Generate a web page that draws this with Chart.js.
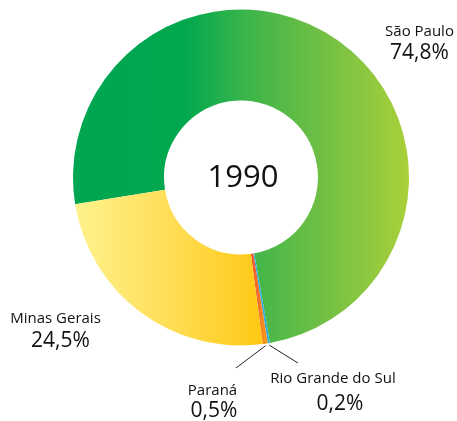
<!DOCTYPE html>
<html>
<head>
<meta charset="utf-8">
<script src="https://cdn.jsdelivr.net/npm/chart.js@4"></script>
<style>
  html, body { margin: 0; padding: 0; background: #fff; }
  #wrap { width: 457px; height: 421px; }
</style>
</head>
<body>
<div id="wrap"><canvas id="donut"></canvas></div>
<script>
// 1990 share by state (%)
const YEAR_LABEL = "1990";
const REGIONS = ["São Paulo", "Rio Grande do Sul", "Paraná", "Minas Gerais"];
const SHARES = [74.8, 0.2, 0.5, 24.5];

// gradient stops per slice, left -> right across the slice
const SLICE_STOPS = [
  [[0, "#00A651"], [0.33, "#00A84F"], [0.52, "#3DB54A"], [0.72, "#6CBE45"], [1, "#A9D03A"]],
  [[0, "#29ABE2"], [1, "#29ABE2"]],
  [[0, "#EF4136"], [1, "#F7941D"]],
  [[0, "#FFF38E"], [0.5, "#FFDE58"], [1, "#FFC914"]],
];

// where the outside labels sit: [centerX, nameBaseline, pctCenterX, pctBaseline]
const LABEL_POS = [
  [419.5, 35.5, 419.5, 59],
  [333, 382.5, 340, 410],
  [212.5, 395, 214, 417],
  [55.5, 322.5, 60.5, 347],
];
// leader line ends for the thin slices
const LEADER_END = { 1: [298, 363], 2: [236, 368] };

const fmtPct = v => v.toFixed(1).replace(".", ",") + "%";

function sliceGradient(ctx) {
  const chart = ctx.chart;
  const area = chart.chartArea;
  const i = ctx.dataIndex;
  if (!area) return SLICE_STOPS[i][0][1];
  const c = chart.ctx;
  let x0 = area.left, x1 = area.right;
  if (i === 3) { x1 = (area.left + area.right) / 2 + 21; }      // Minas Gerais
  if (i === 2) { x0 = (area.left + area.right) / 2 + 8; x1 = x0 + 16; } // Paraná
  const g = c.createLinearGradient(x0, 0, x1, 0);
  SLICE_STOPS[i].forEach(s => g.addColorStop(s[0], s[1]));
  return g;
}

const labelPlugin = {
  id: "donutLabels",
  afterDraw(chart) {
    const c = chart.ctx;
    const meta = chart.getDatasetMeta(0);
    const first = meta.data[0];
    c.save();
    c.fillStyle = "#111";
    c.textAlign = "center";
    c.textBaseline = "alphabetic";
    c.font = "31px 'Open Sans'";
    c.fillText(YEAR_LABEL, first.x + 2, first.y + 9.5);

    REGIONS.forEach((name, i) => {
      const p = LABEL_POS[i];
      c.font = "15px 'Open Sans'";
      c.fillText(name, p[0], p[1]);
      c.font = "21px 'Open Sans'";
      c.fillText(fmtPct(SHARES[i]), p[2], p[3]);
    });

    // leader lines from the slim slices
    c.strokeStyle = "#222";
    c.lineWidth = 1;
    Object.keys(LEADER_END).forEach(k => {
      const arc = meta.data[k];
      const mid = (arc.startAngle + arc.endAngle) / 2;
      const r = arc.outerRadius + 2;
      c.beginPath();
      c.moveTo(arc.x + Math.cos(mid) * r, arc.y + Math.sin(mid) * r);
      c.lineTo(LEADER_END[k][0], LEADER_END[k][1]);
      c.stroke();
    });
    c.restore();
  }
};

new Chart(document.getElementById("donut"), {
  type: "doughnut",
  data: {
    labels: REGIONS,
    datasets: [{
      data: SHARES,
      backgroundColor: sliceGradient,
      borderWidth: 0,
    }]
  },
  options: {
    responsive: true,
    maintainAspectRatio: false,
    animation: false,
    rotation: 260.8,
    cutout: "45.8%",
    layout: { padding: { left: 73, right: 48, top: 9.5, bottom: 75.5 } },
    plugins: {
      legend: { display: false },
      tooltip: { enabled: false },
    }
  },
  plugins: [labelPlugin]
});
</script>
</body>
</html>
